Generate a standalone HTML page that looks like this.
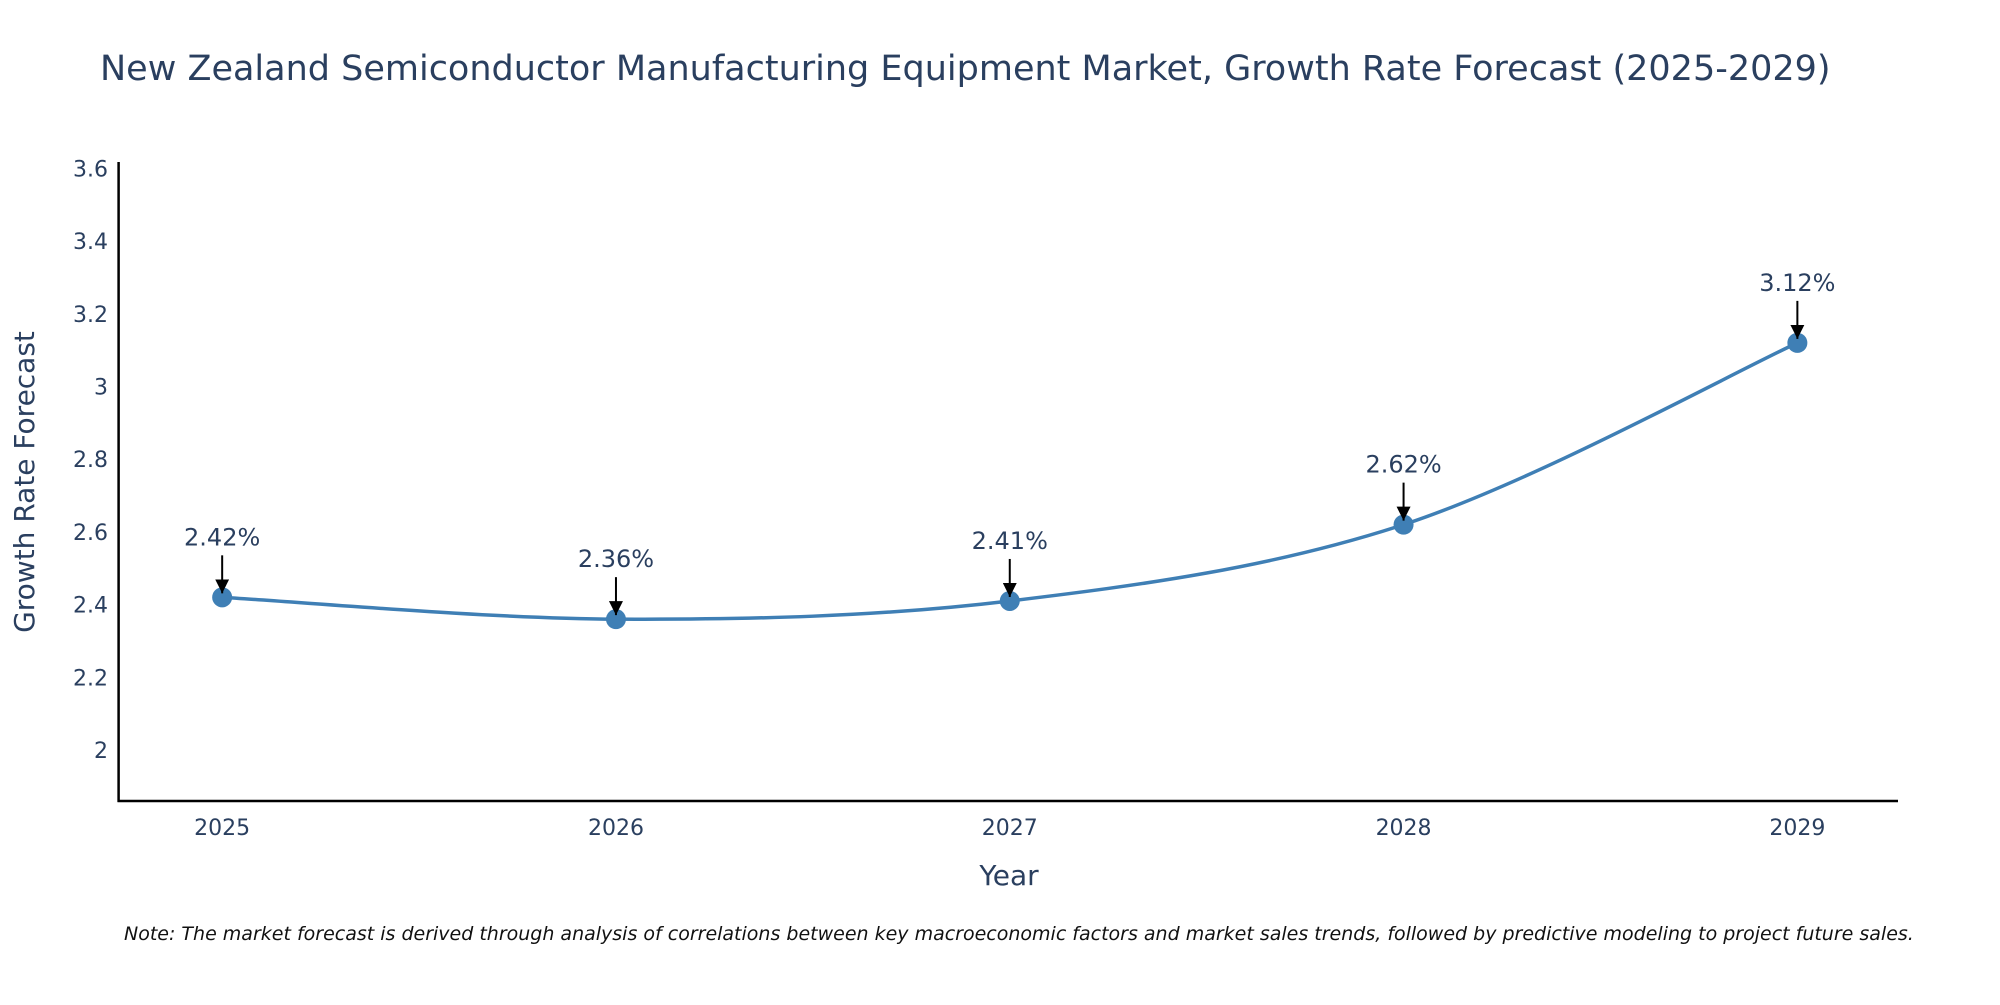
<!DOCTYPE html>
<html><head><meta charset="utf-8"><style>
body{margin:0;background:#fff;}
svg text{font-family:"DejaVu Sans","Liberation Sans",sans-serif;fill:#2a3f5f;}
</style></head><body>
<svg id="chart" width="2000" height="1000" xmlns="http://www.w3.org/2000/svg">
<defs><marker id="ah" viewBox="0 0 10 10" refX="10" refY="5" markerWidth="7" markerHeight="7" markerUnits="strokeWidth" orient="auto"><path d="M0,0 L10,5 L0,10 z" fill="#000"/></marker></defs>
<text x="100" y="80" font-size="35">New Zealand Semiconductor Manufacturing Equipment Market, Growth Rate Forecast (2025-2029)</text>
<g id="yticks"></g><g id="xticks"></g>
<line x1="118.6" y1="162" x2="118.6" y2="802" stroke="#000" stroke-width="2.5"/>
<line x1="117.5" y1="801" x2="1898" y2="801" stroke="#000" stroke-width="2.5"/>
<path id="line" fill="none" stroke="#3f7fb5" stroke-width="3.5"/>
<g id="points"></g>
<text transform="translate(34,482) rotate(-90)" text-anchor="middle" font-size="28">Growth Rate Forecast</text>
<text x="1009" y="885" text-anchor="middle" font-size="28">Year</text>
<text x="124" y="940" font-size="19" font-style="italic" style="fill:#111">Note: The market forecast is derived through analysis of correlations between key macroeconomic factors and market sales trends, followed by predictive modeling to project future sales.</text>
</svg>
<script>
const years=[2025,2026,2027,2028,2029];
const values=[2.42,2.36,2.41,2.62,3.12];
const labels=["2.42%","2.36%","2.41%","2.62%","3.12%"];
const yTicks=[2,2.2,2.4,2.6,2.8,3,3.2,3.4,3.6];
const yTickLabels=["2","2.2","2.4","2.6","2.8","3","3.2","3.4","3.6"];
const NS="http://www.w3.org/2000/svg";
const X=v=>118.6+(v-2024.737)*393.8;
const Y=v=>750-(v-2)*363.5;
function mk(t,a,p){const e=document.createElementNS(NS,t);for(const k in a)e.setAttribute(k,a[k]);p.appendChild(e);return e;}
const yt=document.getElementById('yticks'),xt=document.getElementById('xticks'),pg=document.getElementById('points');
yTicks.forEach((v,i)=>{const t=mk('text',{x:108,y:Y(v)+8,'text-anchor':'end','font-size':22},yt);t.textContent=yTickLabels[i];

});
years.forEach(v=>{const t=mk('text',{x:X(v),y:835,'text-anchor':'middle','font-size':22},xt);t.textContent=v;

});
const pts=years.map((y,i)=>[X(y),Y(values[i])]);
let d=`M${pts[0][0]},${pts[0][1]}`;
for(let i=0;i<pts.length-1;i++){const p0=pts[Math.max(0,i-1)],p1=pts[i],p2=pts[i+1],p3=pts[Math.min(pts.length-1,i+2)];const s=1/6;
d+=` C${p1[0]+(p2[0]-p0[0])*s},${p1[1]+(p2[1]-p0[1])*s} ${p2[0]-(p3[0]-p1[0])*s},${p2[1]-(p3[1]-p1[1])*s} ${p2[0]},${p2[1]}`;}
document.getElementById('line').setAttribute('d',d);
pts.forEach((p,i)=>{
const c=mk('circle',{cx:p[0],cy:p[1],r:10,fill:'#3f7fb5'},pg);


const a=mk('line',{x1:p[0],y1:p[1]-42,x2:p[0],y2:p[1]-4,stroke:'#000','stroke-width':2,'marker-end':'url(#ah)'},pg);


const t=mk('text',{x:p[0],y:p[1]-52,'text-anchor':'middle','font-size':24},pg);t.textContent=labels[i];

});
</script>
</body></html>
